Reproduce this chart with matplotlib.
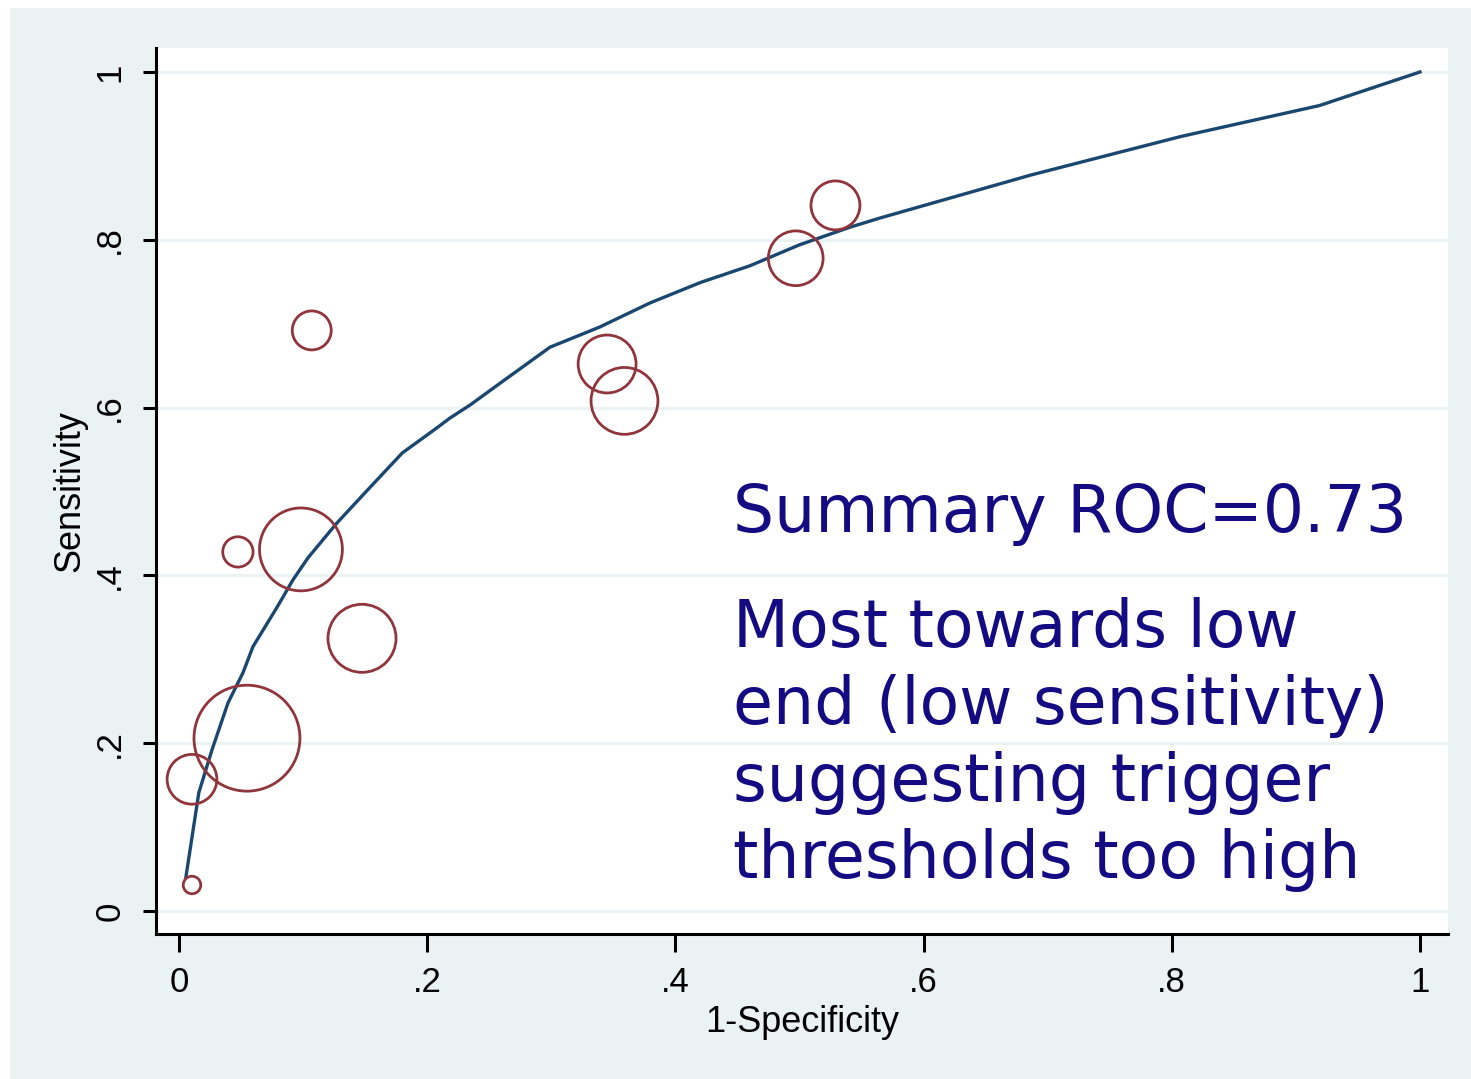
import matplotlib.pyplot as plt
from matplotlib.patches import Rectangle
import numpy as np

# study estimates (1-specificity, sensitivity) and relative weights
study_fpr = [0.0105, 0.0105, 0.0548, 0.0475, 0.0983, 0.1475, 0.107, 0.345, 0.359, 0.497, 0.529]
study_sens = [0.031, 0.157, 0.206, 0.428, 0.431, 0.325, 0.692, 0.652, 0.608, 0.778, 0.841]
study_weight = [0.77, 6.2, 28.1, 2.3, 17.2, 11.6, 3.8, 8.4, 11.2, 7.5, 6.0]

# summary ROC curve
sroc_fpr = [0.0056, 0.016, 0.0266, 0.0395, 0.0516, 0.0596, 0.079, 0.092, 0.104, 0.127,
            0.154, 0.180, 0.208, 0.2184, 0.2345, 0.2587, 0.299, 0.339, 0.3795, 0.420,
            0.460, 0.500, 0.5407, 0.565, 0.686, 0.807, 0.919, 1.0]
sroc_sens = [0.0405, 0.141, 0.192, 0.248, 0.284, 0.315, 0.362, 0.395, 0.421, 0.462,
             0.505, 0.546, 0.576, 0.5876, 0.603, 0.629, 0.672, 0.696, 0.7247, 0.749,
             0.769, 0.794, 0.815, 0.826, 0.877, 0.923, 0.960, 1.0]

xticks = [0, 0.2, 0.4, 0.6, 0.8, 1]
tick_labels = ["0", ".2", ".4", ".6", ".8", "1"]

bg = "#EAF2F3"
W, H = 1471, 1079
fig = plt.figure(figsize=(W / 100, H / 100), dpi=100, facecolor="white")
fig.patches.append(Rectangle((10 / W, 0), 1, 1 - 8 / H, transform=fig.transFigure,
                             facecolor=bg, edgecolor="none", zorder=-10))

ax = fig.add_axes([156 / W, 1 - 934 / H, 1292 / W, 886 / H])
ax.set_facecolor("white")
ax.set_xlim(-0.0185, 1.0226)
ax.set_ylim(-0.0274, 1.0286)

for y in xticks:
    ax.axhline(y, color=bg, lw=2.2, zorder=0)

ax.plot(sroc_fpr, sroc_sens, color="#1A476F", lw=2.4, zorder=2)
sizes = np.array(study_weight) * 207
ax.scatter(study_fpr, study_sens, s=sizes, facecolors="none", edgecolors="#90353B",
           linewidths=2.0, zorder=3)

for s in ["top", "right"]:
    ax.spines[s].set_visible(False)
for s in ["left", "bottom"]:
    ax.spines[s].set_linewidth(2.2)

ax.set_xticks(xticks)
ax.set_xticklabels(tick_labels, fontsize=25, family="Liberation Sans")
ax.set_yticks(xticks)
ax.set_yticklabels(tick_labels, fontsize=25, family="Liberation Sans", rotation=90, va="center")
ax.tick_params(axis="x", length=13, width=2.2, pad=10)
ax.tick_params(axis="y", length=9.5, width=2.2, pad=12)

ax.set_xlabel("1-Specificity", fontsize=26, family="Liberation Sans", labelpad=4)
ax.set_ylabel("Sensitivity", fontsize=26, family="Liberation Sans", labelpad=4)

# annotation, placed in pixel coordinates measured from the top of the image
txt_color = "#140A82"
ax.text(733, H - 532, "Summary ROC=0.73", transform=None, fontsize=46.7, color=txt_color,
        family="DejaVu Sans", va="baseline")
lines = ["Most towards low", "end (low sensitivity)", "suggesting trigger", "thresholds too high"]
for i, line in enumerate(lines):
    ax.text(733, H - (647 + i * 77), line, transform=None, fontsize=46.7, color=txt_color,
            family="DejaVu Sans", va="baseline")

fig.savefig("out.png", dpi=100, facecolor=fig.get_facecolor())
